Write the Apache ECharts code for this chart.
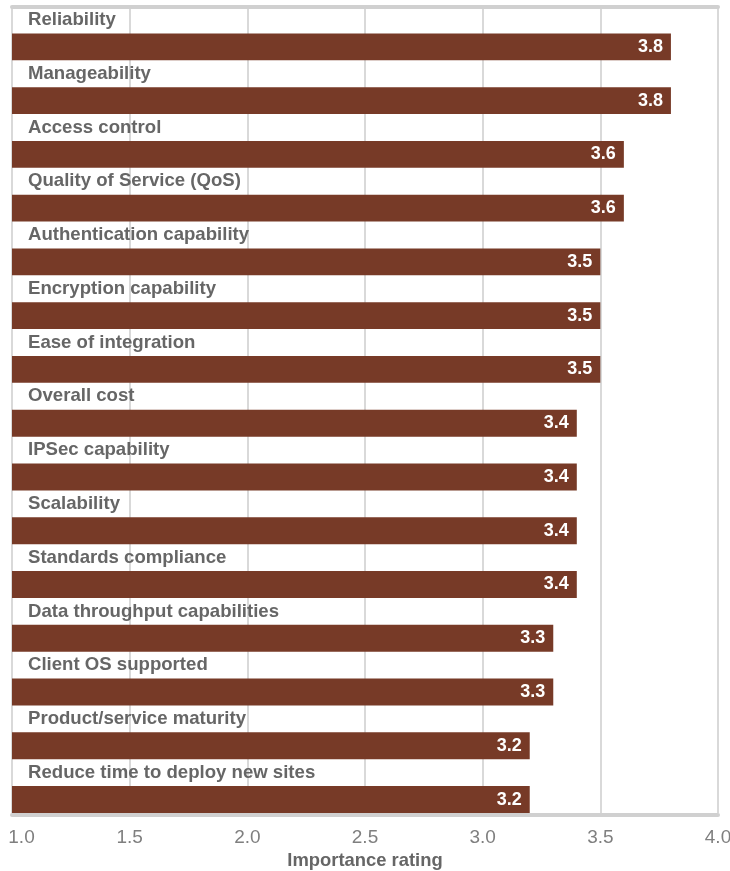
<!DOCTYPE html>
<html>
<head>
<meta charset="utf-8">
<script src="https://cdn.jsdelivr.net/npm/echarts@6/dist/echarts.min.js"></script>
<style>
html,body{margin:0;padding:0;background:#fff;}
#c{width:730px;height:871px;}
</style>
</head>
<body>
<div id="c"></div>
<script>
const categories = [
  'Reliability',
  'Manageability',
  'Access control',
  'Quality of Service (QoS)',
  'Authentication capability',
  'Encryption capability',
  'Ease of integration',
  'Overall cost',
  'IPSec capability',
  'Scalability',
  'Standards compliance',
  'Data throughput capabilities',
  'Client OS supported',
  'Product/service maturity',
  'Reduce time to deploy new sites'
];
const ratings = [3.8, 3.8, 3.6, 3.6, 3.5, 3.5, 3.5, 3.4, 3.4, 3.4, 3.4, 3.3, 3.3, 3.2, 3.2];
const tickLabels = ['1.0', '1.5', '2.0', '2.5', '3.0', '3.5', '4.0'];
const axisTitle = 'Importance rating';

const FONT = 'Arial, "Liberation Sans", sans-serif';
const chart = echarts.init(document.getElementById('c'), null, {renderer: 'canvas'});

chart.setOption({
  animation: false,
  backgroundColor: '#ffffff',
  grid: {left: 12, right: 12, top: 6.5, bottom: 58, containLabel: false, outerBoundsMode: 'none'},
  xAxis: [{
    type: 'value',
    min: 1,
    max: 4,
    interval: 0.5,
    position: 'bottom',
    offset: 2,
    axisLine: {show: true, lineStyle: {color: '#d0d0d0', width: 4}},
    axisTick: {show: false},
    splitLine: {show: true, showMinLine: true, showMaxLine: true, lineStyle: {color: '#d9d9d9', width: 2}},
    axisLabel: {
      margin: 13,
      color: '#7f7f7f',
      fontFamily: FONT,
      fontSize: 19,
      formatter: function (v) {
        const idx = Math.round((v - 1) / 0.5);
        const t = tickLabels[idx];
        return idx === 0 ? '{first|' + t + '}' : t;
      },
      rich: {
        first: {color: '#7f7f7f', fontFamily: FONT, fontSize: 19, padding: [0, 0, 0, 19]}
      }
    },
    name: axisTitle,
    nameLocation: 'middle',
    nameGap: 36,
    nameTextStyle: {color: '#666666', fontFamily: FONT, fontSize: 18.4, fontWeight: 'bold'}
  }, {
    type: 'value',
    min: 1,
    max: 4,
    position: 'top',
    axisLine: {show: true, lineStyle: {color: '#d0d0d0', width: 4}},
    axisTick: {show: false},
    axisLabel: {show: false},
    splitLine: {show: false}
  }],
  yAxis: {
    type: 'category',
    data: categories,
    inverse: true,
    axisLine: {show: false},
    axisTick: {show: false},
    axisLabel: {show: false},
    splitLine: {show: false}
  },
  series: [{
    name: 'labels',
    type: 'bar',
    data: ratings,
    barGap: '0%',
    barCategoryGap: '0%',
    silent: true,
    itemStyle: {color: 'rgba(0,0,0,0)'},
    label: {
      show: true,
      position: 'insideLeft',
      distance: 16,
      formatter: '{b}',
      color: '#666666',
      fontFamily: FONT,
      fontSize: 18.6,
      fontWeight: 'bold'
    }
  }, {
    name: 'Importance rating',
    type: 'bar',
    data: ratings,
    barGap: '0%',
    barCategoryGap: '0%',
    itemStyle: {color: '#773a27'},
    label: {
      show: true,
      position: 'insideRight',
      distance: 8,
      formatter: function (p) { return p.value.toFixed(1); },
      color: '#ffffff',
      fontFamily: FONT,
      fontSize: 18,
      fontWeight: 'bold'
    }
  }]
});
</script>
</body>
</html>
